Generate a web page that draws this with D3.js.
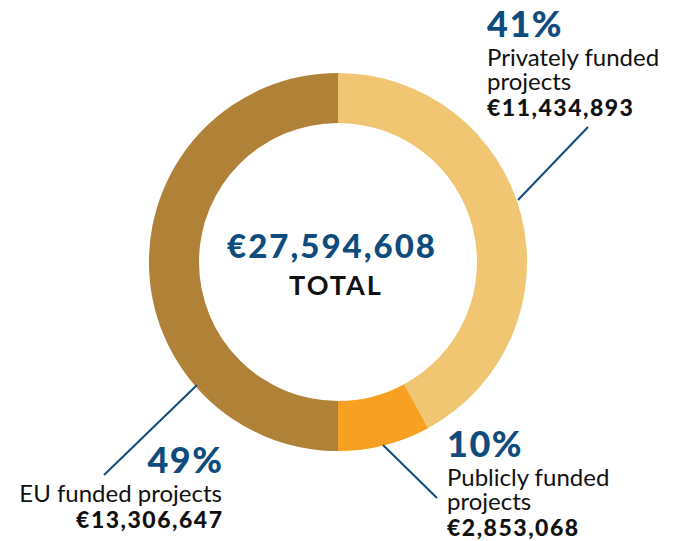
<!DOCTYPE html>
<html>
<head>
<meta charset="utf-8">
<script src="https://cdn.jsdelivr.net/npm/d3@7"></script>
<style>
  html, body { margin: 0; padding: 0; background: #fff; }
  svg { display: block; font-family: Lato, "Noto Sans", sans-serif; }
</style>
</head>
<body>
<svg id="chart" width="676" height="541"></svg>
<script>
// ---- data ----
const categories = ["Privately funded projects", "Publicly funded projects", "EU funded projects"];
const amounts = [11434893, 2853068, 13306647];
const percentLabels = ["41%", "10%", "49%"];
// share of the ring each slice occupies as drawn in the picture (%)
const arcShares = [42.1, 7.9, 50];
const colors = ["#F0C672", "#F7A021", "#B08238"];

const blue = "#0F4C7E";
const cx = 338, cy = 262, rOuter = 189, rInner = 139;

const svg = d3.select("#chart");
const g = svg.append("g").attr("transform", `translate(${cx},${cy})`);

const pie = d3.pie().sort(null).value(d => d.share);
const arc = d3.arc().innerRadius(rInner).outerRadius(rOuter);
const data = categories.map((c, i) => ({ name: c, amount: amounts[i], pct: percentLabels[i], share: arcShares[i] }));

g.selectAll("path.slice").data(pie(data)).join("path")
  .attr("class", "slice")
  .attr("d", arc)
  .attr("fill", (d, i) => colors[i]);

// center text
const fmt = d3.format(",");
g.append("text").attr("x", -6).attr("y", -4).attr("text-anchor", "middle")
  .attr("font-size", 33).attr("font-weight", 900).attr("fill", blue)
  .attr("letter-spacing", 2)
  .text("€" + fmt(d3.sum(amounts)));
g.append("text").attr("x", -2).attr("y", 33).attr("text-anchor", "middle")
  .attr("font-size", 27).attr("font-weight", 700).attr("fill", "#111")
  .attr("letter-spacing", 2)
  .text("TOTAL");

// leader lines (offsets from center)
const leaders = [
  { from: [180, -62], to: [250, -135] },
  { from: [45, 183], to: [99, 236] },
  { from: [-141, 123], to: [-234, 213] }
];
g.selectAll("line.leader").data(leaders).join("line")
  .attr("class", "leader")
  .attr("x1", d => d.from[0]).attr("y1", d => d.from[1])
  .attr("x2", d => d.to[0]).attr("y2", d => d.to[1])
  .attr("stroke", blue).attr("stroke-width", 2);

// labels
const labelDefs = [
  { x: 487, y: 37, anchor: "start", lines: ["Privately funded", "projects"] },
  { x: 447, y: 457, anchor: "start", lines: ["Publicly funded", "projects"] },
  { x: 222, y: 473, anchor: "end", lines: ["EU funded projects"] }
];
labelDefs.forEach((L, i) => {
  const t = svg.append("text").attr("text-anchor", L.anchor).attr("fill", "#111");
  const endShift = L.anchor === "end" ? 1.5 : 0;
  t.append("tspan").attr("x", L.x + endShift).attr("y", L.y)
    .attr("font-size", 36).attr("font-weight", 900).attr("fill", blue)
    .attr("letter-spacing", 1.5)
    .text(data[i].pct);
  let y = L.y;
  L.lines.forEach((s, k) => {
    y += (k === 0) ? 28.5 : 24.5;
    t.append("tspan").attr("x", L.x).attr("y", y)
      .attr("font-size", 24).attr("font-weight", 400)
      .text(s);
  });
  y += 26;
  t.append("tspan").attr("x", L.x + endShift).attr("y", y)
    .attr("font-size", 23).attr("font-weight", 900)
    .attr("letter-spacing", 1.5)
    .text("€" + fmt(data[i].amount));
});
</script>
</body>
</html>
